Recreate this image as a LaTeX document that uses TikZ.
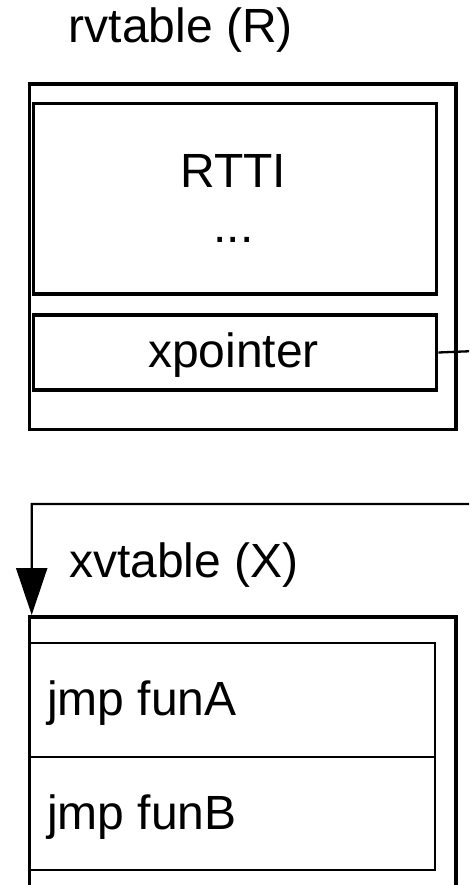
\documentclass[tikz,border=0pt]{standalone}
\usepackage{fontspec}
\setmainfont{Liberation Sans}
\usetikzlibrary{arrows.meta}
\begin{document}
\begin{tikzpicture}[x=1pt,y=-1pt,
  lbl/.style={inner sep=0pt, font=\fontsize{48}{54}\selectfont},
  outerbox/.style={draw, line width=3.6pt, inner sep=0pt, anchor=north west},
  slotbox/.style={draw, line width=3.4pt, inner sep=0pt, anchor=north west},
  rowbox/.style={draw, line width=2.3pt, inner sep=0pt, anchor=north west},
  link/.style={line width=2.3pt},
  bigtip/.style={-{Triangle[length=47pt,width=31pt]}}
]
\useasboundingbox (0,0) rectangle (469,885);
\clip (0,0) rectangle (469,885);

% rvtable (R)
\node[lbl, anchor=base west] (rtitle) at (68.5,43) {rvtable (R)};
\node[outerbox, minimum width=426.3pt, minimum height=345.4pt] (rtab) at (27.7,82.3) {};
\node[slotbox, minimum width=403.3pt, minimum height=190.6pt] (rtti) at (31.7,101.7) {};
\node[lbl, anchor=base] (rttitxt) at (233.4,188) {RTTI};
\node[lbl, anchor=base] (dots) at (233.4,242) {...};
\node[slotbox, minimum width=403.3pt, minimum height=75pt] (xptr) at (31.7,313.3) {};
\node[lbl, anchor=base] (xptrtxt) at (233.4,367) {xpointer};

% xvtable (X)
\node[lbl, anchor=base west] (xtitle) at (69,577) {xvtable (X)};
\node[outerbox, minimum width=426.3pt, minimum height=300pt] (xtab) at (27.7,615) {};
\node[rowbox, minimum width=406.3pt, minimum height=113.5pt] (rowa) at (27.7,642) {};
\node[rowbox, minimum width=406.3pt, minimum height=113.5pt] (rowb) at (27.7,755.5) {};
\node[lbl, anchor=base west] (funa) at (47,715) {jmp funA};
\node[lbl, anchor=base west] (funb) at (47,829) {jmp funB};

% pointer from xpointer to the xvtable
\coordinate (tipx) at (31.7,615);
\coordinate (turnA) at (500,350);
\coordinate (turnB) at (500,504);
\coordinate (turnC) at (31.7,504);
\draw[link, bigtip] (xptr.east) -- (turnA) -- (turnB) -- (turnC) -- (tipx);
\end{tikzpicture}
\end{document}
